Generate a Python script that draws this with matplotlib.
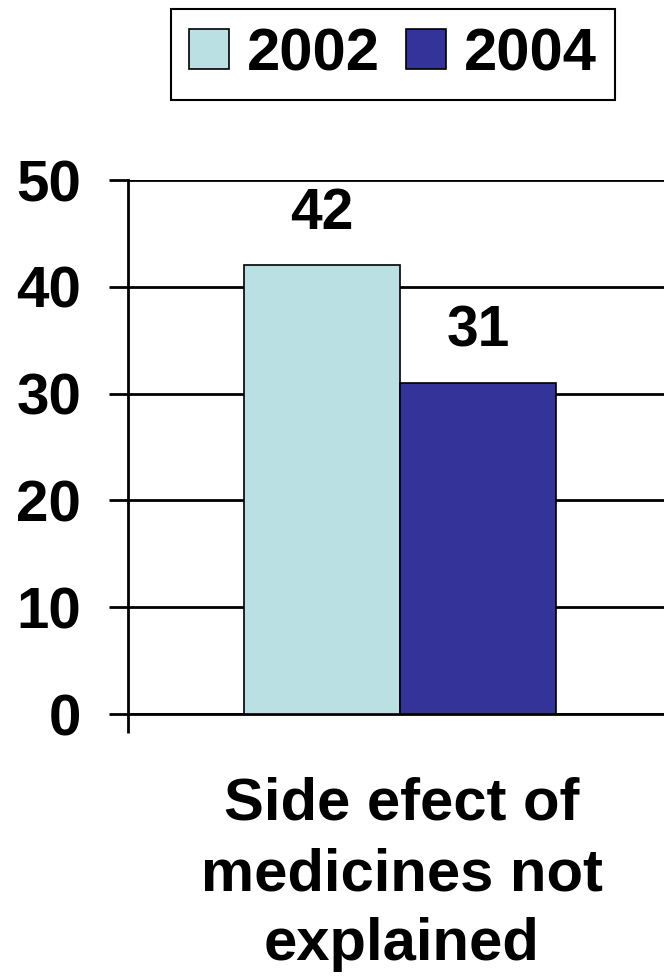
import matplotlib.pyplot as plt
from matplotlib.patches import Patch

plt.rcParams["font.family"] = ["Liberation Sans", "DejaVu Sans"]
plt.rcParams["font.weight"] = "bold"

# Data -------------------------------------------------------------------------

category = "Side efect of\nmedicines not\nexplained"
years = ["2002", "2004"]
values = [42, 31]
colors = ["#BBE0E3", "#333399"]
y_ticks = [0, 10, 20, 30, 40, 50]

# Figure -----------------------------------------------------------------------

W, H = 664, 980
fig = plt.figure(figsize=(W / 100, H / 100), dpi=100)

# plot area runs past the right edge so the grid reaches the border
left, right, bottom, top = 128, 672, 714, 180
ax = fig.add_axes([left / W, 1 - bottom / H, (right - left) / W, (bottom - top) / H])

bar_w = 0.287
offsets = [-bar_w / 2, bar_w / 2]
for off, val, col, lab in zip(offsets, values, colors, years):
    ax.bar(off, val, width=bar_w, color=col, edgecolor="black", linewidth=1.2,
           label=lab, zorder=3)
    ax.annotate(str(val), (off, val), xytext=(0, 26), textcoords="offset points",
                ha="center", va="baseline", fontsize=41, fontweight="bold")

ax.set_xlim(-0.5, 0.5)
ax.set_ylim(0, 50)
ax.set_yticks(y_ticks)
ax.set_yticklabels([str(t) for t in y_ticks])
ax.yaxis.grid(True, color="black", linewidth=2.0, zorder=0)
ax.tick_params(axis="y", length=13.7, width=2.0, pad=20, labelsize=42)
ax.set_xticks([-0.5])
ax.set_xticklabels([""])
ax.tick_params(axis="x", length=13.7, width=2.0)
for side in ["top", "right"]:
    ax.spines[side].set_visible(False)
ax.spines["left"].set_linewidth(2.0)
ax.spines["bottom"].set_linewidth(2.0)

fig.text(402 / W, 1 - 777 / H, category, ha="center", va="top",
         fontsize=43, fontweight="bold", linespacing=1.35)

handles = [Patch(facecolor=c, edgecolor="black", linewidth=1.2) for c in colors]
leg = fig.legend(handles, years, loc="center", bbox_to_anchor=(393 / W, 1 - 54.5 / H),
                 ncol=2, prop={"weight": "bold", "size": 43},
                 handlelength=0.67, handleheight=0.67, handletextpad=0.3,
                 columnspacing=0.45, borderpad=0.3, fancybox=False,
                 edgecolor="black", framealpha=1)
leg.get_frame().set_linewidth(1.5)

fig.savefig("out.png", dpi=100)
